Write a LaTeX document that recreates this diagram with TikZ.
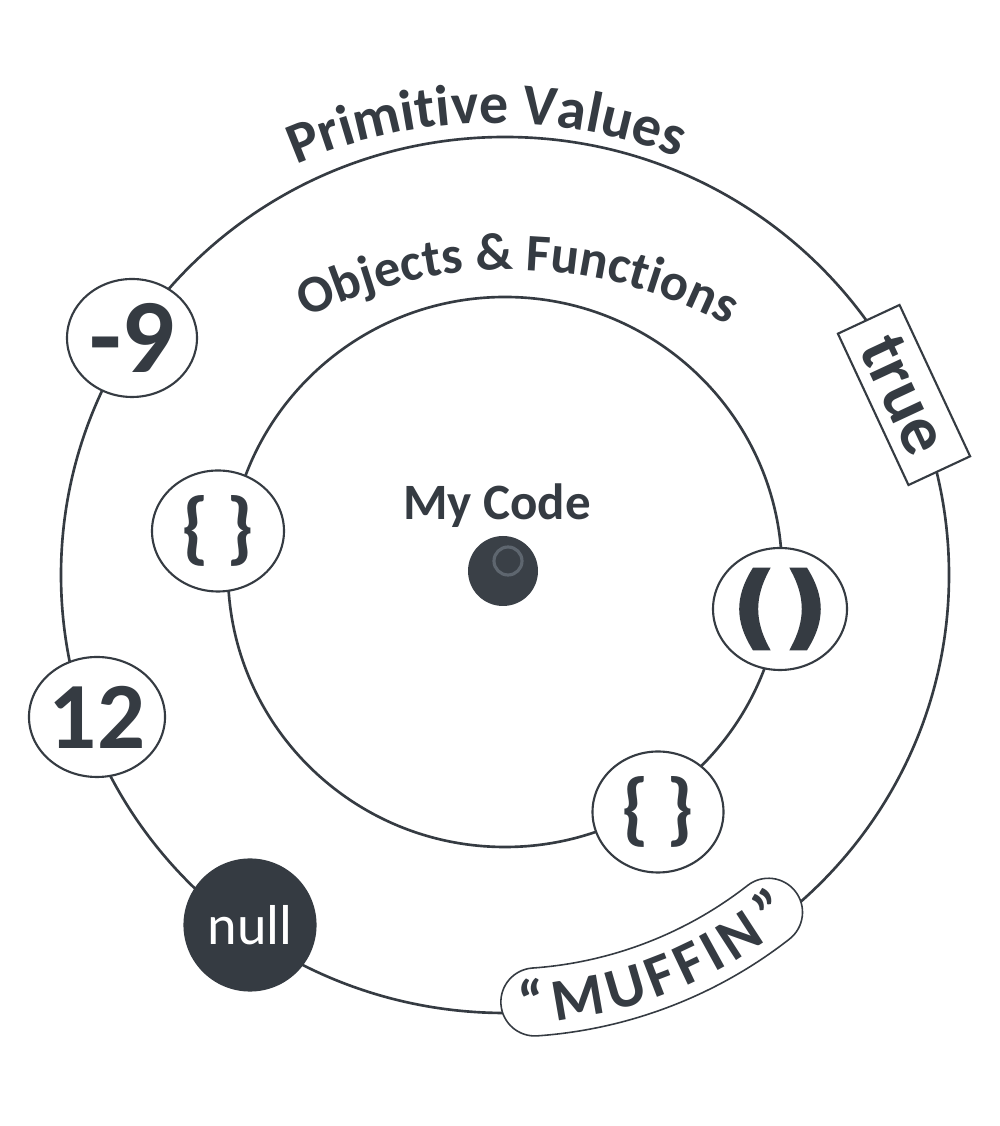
\documentclass[tikz,border=0pt]{standalone}
\usepackage{fontspec}
\usetikzlibrary{shapes.geometric,decorations.text}
\newfontfamily\hand{Carlito}
\newfontfamily\heavy{DejaVu Sans Bold}[FakeBold=5]
\definecolor{ink}{HTML}{353B42}
\definecolor{ballc}{HTML}{3A4047}
\definecolor{ballhl}{HTML}{5E666F}
\tikzset{
  ring/.style={draw=ink, line width=0.75pt},
  token/.style={ellipse, draw=ink, fill=white, line width=0.6pt, inner sep=0pt, text=ink},
  brace/.style={font=\hand\bfseries\fontsize{23}{23}\selectfont},
  arctext/.style={decorate, decoration={text along path, text align=center, text color=ink, text={#1}}}
}
\begin{document}
\begin{tikzpicture}[x=1cm,y=1cm]
\useasboundingbox (0,0) rectangle (10,11.26);
\fill[white] (0,0) rectangle (10,11.26);

\coordinate (c) at (5.05,5.51);
\coordinate (ci) at (5.05,5.54);
\draw[ring] (c) ellipse [x radius=4.44, y radius=4.38];
\draw[ring] (ci) ellipse [x radius=2.77, y radius=2.75];

% labels along the rings
\path[arctext={|\hand\bfseries\fontsize{16.5}{16.5}\selectfont|Primitive Values}]
  ([shift={(131:4.97)}]4.95,5.06) arc[start angle=131, end angle=51, radius=4.97];
\path[arctext={|\hand\bfseries\fontsize{15}{15}\selectfont|Objects {\&} Functions}]
  ([shift={(129:4.55)}]5.10,4.01) arc[start angle=129, end angle=49, radius=4.55];

% primitive values
\node[token, minimum width=1.30cm, minimum height=1.18cm, font=\hand\bfseries\fontsize{30}{30}\selectfont] (neg) at (1.32,7.88) {-9};
\node[token, minimum width=1.32cm, minimum height=1.20cm, font=\hand\bfseries\fontsize{27}{27}\selectfont] (n12) at (0.97,4.09) {12};
\node[token, fill=ink, text=white, minimum width=1.31cm, minimum height=1.31cm, font=\hand\fontsize{16}{16}\selectfont] (null) at (2.50,2.01) {null};
\node[draw=ink, fill=white, line width=0.6pt, rectangle, inner sep=0pt, minimum width=1.67cm, minimum height=0.68cm, rotate=-65, text=ink, font=\hand\bfseries\fontsize{20}{20}\selectfont] (true) at (9.04,7.31) {true};

% string token
\draw[ink, fill=white, line width=0.45pt]
  ([shift={(-52:4.62)}]c) arc[start angle=-52, end angle=-86, radius=4.62]
  arc[start angle=-86, end angle=-266, radius=0.34]
  arc[start angle=-86, end angle=-52, radius=3.94]
  arc[start angle=128, end angle=-52, radius=0.34] -- cycle;
\path[arctext={|\hand\bfseries\fontsize{17}{17}\selectfont|“{\kern3pt}M{\kern1.5pt}U{\kern1.5pt}F{\kern1.5pt}F{\kern1.5pt}I{\kern1.5pt}N{\kern3pt}”}]
  ([shift={(-94:4.49)}]c) arc[start angle=-94, end angle=-44, radius=4.49];

% objects and functions
\node[token, brace, minimum width=1.32cm, minimum height=1.21cm] (obj1) at (2.18,5.95) {\{\hspace{0.18cm}\}};
\node[token, brace, minimum width=1.31cm, minimum height=1.21cm] (obj2) at (6.58,3.14) {\{\hspace{0.18cm}\}};
\node[token, minimum width=1.34cm, minimum height=1.22cm, font=\heavy\fontsize{25}{25}\selectfont] (fn) at (7.80,5.17) {(\hspace{0.12cm})};

% my code
\node[circle, fill=ballc, minimum size=0.70cm, inner sep=0pt] (me) at (5.03,5.55) {};
\draw[ballhl, line width=0.9pt] ([shift={(0.05,0.10)}]me.center) circle (0.14);
\node[text=ink, font=\hand\bfseries\fontsize{14.5}{14.5}\selectfont] (code) at (4.97,6.20) {My Code};
\end{tikzpicture}
\end{document}
